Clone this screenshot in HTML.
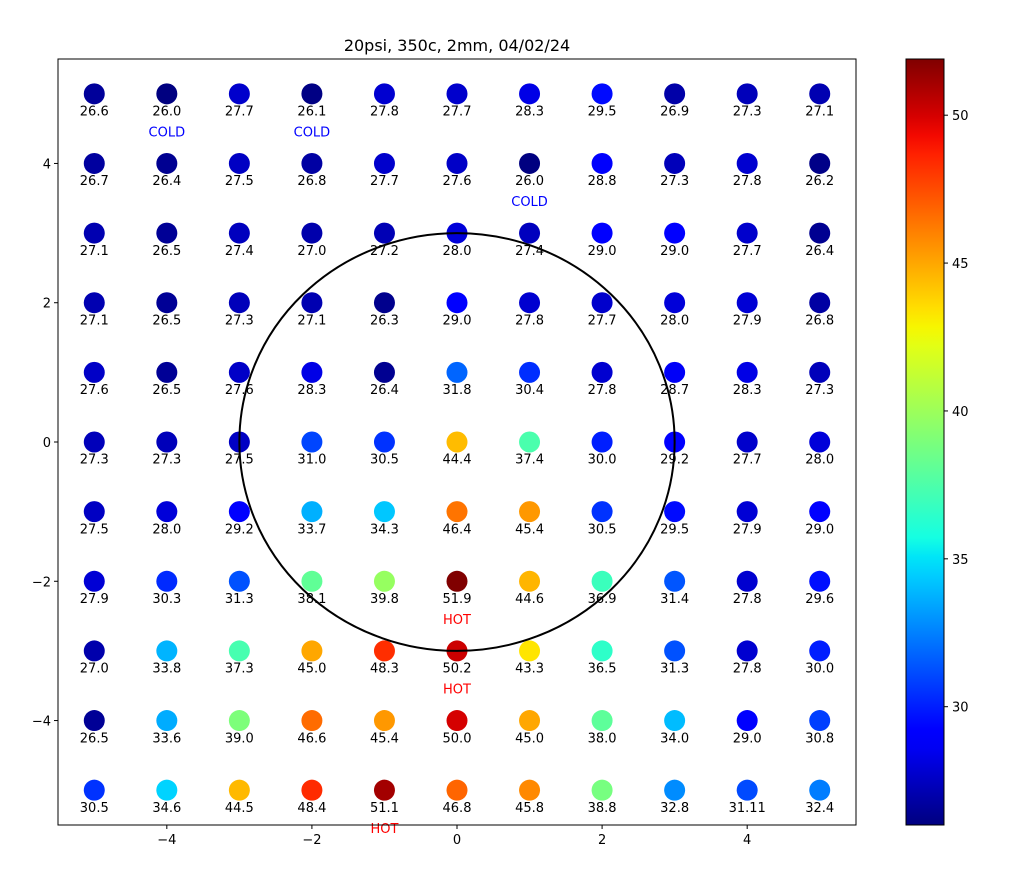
<!DOCTYPE html>
<html><head><meta charset="utf-8">
<style>
body{margin:0;background:#fff;}
svg{display:block;font-family:"DejaVu Sans","Liberation Sans",sans-serif;}
</style></head>
<body>
<svg id="chart" width="1033" height="877">
<defs><linearGradient id="jet" x1="0" y1="1" x2="0" y2="0"></linearGradient></defs>
<rect x="0" y="0" width="1033" height="877" fill="#fff"/>
<text x="457" y="51" text-anchor="middle" font-size="16">20psi, 350c, 2mm, 04/02/24</text>
<g id="plot"></g>
<g id="cbar"></g>
</svg>
<script>
const xCats=[-5,-4,-3,-2,-1,0,1,2,3,4,5];
const yCats=[5,4,3,2,1,0,-1,-2,-3,-4,-5];
const values=[
[26.6,26.0,27.7,26.1,27.8,27.7,28.3,29.5,26.9,27.3,27.1],
[26.7,26.4,27.5,26.8,27.7,27.6,26.0,28.8,27.3,27.8,26.2],
[27.1,26.5,27.4,27.0,27.2,28.0,27.4,29.0,29.0,27.7,26.4],
[27.1,26.5,27.3,27.1,26.3,29.0,27.8,27.7,28.0,27.9,26.8],
[27.6,26.5,27.6,28.3,26.4,31.8,30.4,27.8,28.7,28.3,27.3],
[27.3,27.3,27.5,31.0,30.5,44.4,37.4,30.0,29.2,27.7,28.0],
[27.5,28.0,29.2,33.7,34.3,46.4,45.4,30.5,29.5,27.9,29.0],
[27.9,30.3,31.3,38.1,39.8,51.9,44.6,36.9,31.4,27.8,29.6],
[27.0,33.8,37.3,45.0,48.3,50.2,43.3,36.5,31.3,27.8,30.0],
[26.5,33.6,39.0,46.6,45.4,50.0,45.0,38.0,34.0,29.0,30.8],
[30.5,34.6,44.5,48.4,51.1,46.8,45.8,38.8,32.8,31.11,32.4]];
const coldPts=[[-4,5],[-2,5],[1,4]];
const hotPts=[[0,-2],[0,-3],[-1,-5]];
const xTicks=[-4,-2,0,2,4];
const yTicks=[-4,-2,0,2,4];
const cTicks=[30,35,40,45,50];
const vmin=26.0, vmax=51.9, circleR=3;

const NS="http://www.w3.org/2000/svg";
const L=58,R=856,T=59,B=825;
const sx=v=>L+(v+5.5)/11*(R-L);
const sy=v=>B-(v+5.5)/11*(B-T);
const CT=59,CB=825,CL=906,CR=944;
const cy=v=>CB-(v-vmin)/(vmax-vmin)*(CB-CT);
function cl(x){return Math.max(0,Math.min(1,x));}
function seg(pts,t){for(let i=1;i<pts.length;i++){if(t<=pts[i][0]){const a=pts[i-1],b=pts[i];return a[1]+(b[1]-a[1])*(t-a[0])/(b[0]-a[0]);}}return pts[pts.length-1][1];}
const RS=[[0,0],[0.35,0],[0.66,1],[0.89,1],[1,0.5]];
const GS=[[0,0],[0.125,0],[0.375,1],[0.64,1],[0.91,0],[1,0]];
const BS=[[0,0.5],[0.11,1],[0.34,1],[0.65,0],[1,0]];
function jet(t){t=cl(t);const r=seg(RS,t),g=seg(GS,t),b=seg(BS,t);
return `rgb(${Math.round(r*255)},${Math.round(g*255)},${Math.round(b*255)})`;}
function el(tag,attrs,parent,txt){const e=document.createElementNS(NS,tag);for(const k in attrs)e.setAttribute(k,attrs[k]);if(txt!==undefined)e.textContent=txt;parent.appendChild(e);return e;}
const plot=document.getElementById('plot');
const cbar=document.getElementById('cbar');

yCats.forEach((yv,i)=>xCats.forEach((xv,j)=>{
 const v=values[i][j];
 const c=el('circle',{cx:sx(xv),cy:sy(yv),r:10.5,fill:jet((v-vmin)/(vmax-vmin))},plot);
 
 
 const t=el('text',{x:sx(xv),y:sy(yv-0.24)+5,'text-anchor':'middle','font-size':13},plot,String(v===31.11?'31.11':v.toFixed(1)));
 
 
}));
coldPts.forEach(p=>{const t=el('text',{x:sx(p[0]),y:sy(p[1]-0.54)+5,'text-anchor':'middle','font-size':13,fill:'#0000ff'},plot,'COLD');
 
 });
hotPts.forEach(p=>{const t=el('text',{x:sx(p[0]),y:sy(p[1]-0.54)+5,'text-anchor':'middle','font-size':13,fill:'#ff0000'},plot,'HOT');
 
 });
const circ=el('ellipse',{cx:sx(0),cy:sy(0),rx:sx(circleR)-sx(0),ry:sy(0)-sy(circleR),fill:'none',stroke:'#000','stroke-width':2},plot);


const frame=el('rect',{x:L,y:T,width:R-L,height:B-T,fill:'none',stroke:'#000','stroke-width':1},plot);


xTicks.forEach(v=>{const tk=el('line',{x1:sx(v),x2:sx(v),y1:B,y2:B+4,stroke:'#000'},plot);
 
 
 const t=el('text',{x:sx(v),y:B+19,'text-anchor':'middle','font-size':13},plot,(v<0?'\u2212':'')+Math.abs(v));
 
 });
yTicks.forEach(v=>{const tk=el('line',{x1:L-4,x2:L,y1:sy(v),y2:sy(v),stroke:'#000'},plot);
 
 
 const t=el('text',{x:L-7,y:sy(v)+5,'text-anchor':'end','font-size':13},plot,(v<0?'\u2212':'')+Math.abs(v));
 
 });
const grad=document.getElementById('jet');
for(let k=0;k<=40;k++){el('stop',{offset:k/40,'stop-color':jet(k/40)},grad);}
const cr=el('rect',{x:CL,y:CT,width:CR-CL,height:CB-CT,fill:'url(#jet)',stroke:'#000','stroke-width':1},cbar);


cTicks.forEach(v=>{const tk=el('line',{x1:CR,x2:CR+4,y1:cy(v),y2:cy(v),stroke:'#000'},cbar);
 
 
 const t=el('text',{x:CR+8,y:cy(v)+5,'font-size':13},cbar,String(v));
 
 });
</script>
</body></html>
